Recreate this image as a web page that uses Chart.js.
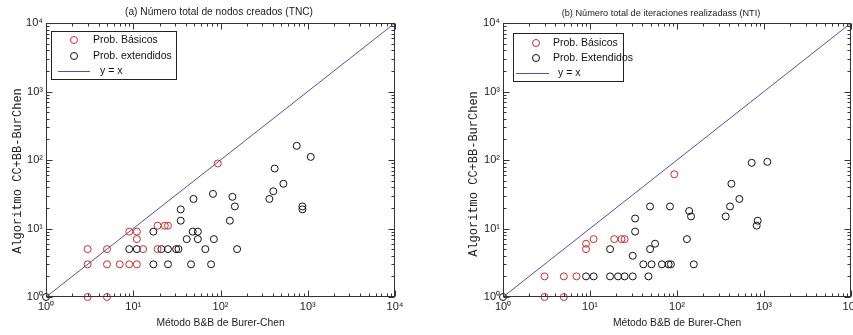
<!DOCTYPE html>
<html><head><meta charset="utf-8">
<script src="https://cdn.jsdelivr.net/npm/chart.js@4.4.1/dist/chart.umd.min.js"></script>
<style>
html,body{margin:0;padding:0;background:#fff;overflow:hidden;}
#wrap{position:relative;width:853px;height:335px;overflow:hidden;background:#fff;}
canvas{position:absolute;top:0;}
</style></head><body>
<div id="wrap">
<canvas id="c1" width="426" height="335" style="left:0"></canvas>
<canvas id="c2" width="440" height="335" style="left:426px"></canvas>
</div>
<script>
// ---- text / tick labels ----
const tickValues = [1, 10, 100, 1000, 10000];
const tickLabels = ['10⁰', '10¹', '10²', '10³', '10⁴'];
const xAxisLabel = 'Método B&B de Burer-Chen';
const yAxisLabel = 'Algoritmo CC+BB-BurChen';
const titleA = '(a) Número total de nodos creados (TNC)';
const titleB = '(b) Número total de iteraciones realizadass (NTI)';
const legendA = ['Prob. Básicos', 'Prob. extendidos', 'y = x'];
const legendB = ['Prob. Básicos', 'Prob. Extendidos', 'y = x'];

// ---- reference line y = x ----
const identityX = [1, 10000];
const identityY = [1, 10000];

// ---- (a) TNC ----
const tncBasicX = [3, 5, 3, 3, 5, 5, 7, 9, 11, 9, 11, 11, 13, 19, 19, 23, 25, 93];
const tncBasicY = [1, 1, 3, 5, 5, 3, 3, 3, 3, 9, 9, 7, 5, 5, 11, 11, 11, 89];
const tncExtX = [1, 9, 11, 21, 25, 31, 33, 67, 155, 17, 25, 46, 78, 41, 55, 84, 17, 48, 55, 35, 128, 35, 146, 49, 82, 137, 363, 403, 526, 869, 869, 418, 748, 1082];
const tncExtY = [1, 5, 5, 5, 5, 5, 5, 5, 5, 3, 3, 3, 3, 7, 7, 7, 9, 9, 9, 13, 13, 19, 21, 27, 32, 29, 27, 35, 45, 21, 19, 75, 161, 111];

// ---- (b) NTI ----
const ntiBasicX = [3, 5, 3, 5, 7, 9, 9, 11, 19, 23, 25, 93];
const ntiBasicY = [1, 1, 2, 2, 2, 6, 5, 7, 7, 7, 7, 62];
const ntiExtX = [1, 9, 11, 17, 21, 25, 31, 47, 41, 51, 67, 80, 85, 156, 31, 17, 49, 56, 33, 33, 49, 83, 130, 138, 145, 363, 407, 422, 521, 847, 824, 722, 1092];
const ntiExtY = [1, 2, 2, 2, 2, 2, 2, 2, 3, 3, 3, 3, 3, 3, 4, 5, 5, 6, 9, 14, 21, 21, 7, 18, 15, 15, 21, 45, 27, 13, 11, 91, 94];

const RED = 'rgb(200,45,45)';
const BLACK = '#111';
const BLUE = 'rgb(80,80,175)';
const SANS = '"Liberation Sans", Arial, sans-serif';
const MONO = '"Liberation Mono", "Courier New", monospace';

function pts(xs, ys) { return xs.map((x, i) => ({ x: x, y: ys[i] })); }

const matlabPlugin = {
  id: 'matlab',
  afterDatasetsDraw(chart, args, o) {
    const ctx = chart.ctx, a = chart.chartArea, xs = chart.scales.x, ys = chart.scales.y;
    ctx.save();
    ctx.strokeStyle = '#333';
    ctx.lineWidth = 1;
    const L = Math.round(a.left) + 0.5, R = Math.round(a.right) - 0.5;
    const T = Math.round(a.top) + 0.5, B = Math.round(a.bottom) - 0.5;
    ctx.strokeRect(L, T, R - L, B - T);
    ctx.beginPath();
    const vals = [];
    for (let d = 0; d < 4; d++) for (let k = 1; k <= 9; k++) vals.push([k * Math.pow(10, d), k === 1]);
    vals.push([10000, true]);
    vals.forEach(([v, major]) => {
      const len = major ? 6 : 3;
      const px = Math.round(xs.getPixelForValue(v)) + 0.5;
      ctx.moveTo(px, B); ctx.lineTo(px, B - len);
      ctx.moveTo(px, T); ctx.lineTo(px, T + len);
      const py = Math.round(ys.getPixelForValue(v)) + 0.5;
      ctx.moveTo(L, py); ctx.lineTo(L + len, py);
      ctx.moveTo(R, py); ctx.lineTo(R - len, py);
    });
    ctx.stroke();
    ctx.restore();
  },
  afterDraw(chart, args, o) {
    const ctx = chart.ctx;
    ctx.save();
    // title
    ctx.fillStyle = '#222';
    ctx.font = o.titleSize + 'px ' + SANS;
    ctx.textAlign = 'center';
    ctx.textBaseline = 'middle';
    ctx.fillText(o.title, o.titleX, o.titleY);
    // y label
    ctx.save();
    ctx.translate(o.ylabelX, o.ylabelY);
    ctx.rotate(-Math.PI / 2);
    ctx.font = '12px ' + MONO;
    ctx.fillText(o.ylabel, 0, 0);
    ctx.restore();
    // legend
    const lg = o.legend;
    ctx.fillStyle = '#fff';
    ctx.fillRect(lg.x0, lg.y0, lg.x1 - lg.x0, lg.y1 - lg.y0);
    ctx.strokeStyle = '#222';
    ctx.lineWidth = 1;
    ctx.strokeRect(lg.x0 + 0.5, lg.y0 + 0.5, lg.x1 - lg.x0, lg.y1 - lg.y0);
    ctx.font = '10.5px ' + SANS;
    ctx.textAlign = 'left';
    ctx.textBaseline = 'middle';
    chart.data.datasets.forEach((ds, i) => {
      const ry = lg.rows[i];
      if (ds.showLine) {
        ctx.strokeStyle = ds.borderColor;
        ctx.beginPath();
        ctx.moveTo(lg.lineX0, ry + 0.5); ctx.lineTo(lg.lineX1, ry + 0.5);
        ctx.stroke();
        ctx.fillStyle = '#111';
        ctx.fillText(ds.label, lg.lineTextX, ry);
      } else {
        ctx.strokeStyle = ds.pointBorderColor;
        ctx.beginPath();
        ctx.arc(lg.markerX, ry, 3.5, 0, Math.PI * 2);
        ctx.stroke();
        ctx.fillStyle = '#111';
        ctx.fillText(ds.label, lg.textX, ry);
      }
    });
    ctx.restore();
  }
};

function makeChart(id, basic, ext, legendLabels, yWidth, padRight, matlabOpts) {
  const tickFont = { family: SANS, size: 11 };
  return new Chart(document.getElementById(id), {
    type: 'scatter',
    data: {
      datasets: [
        { label: legendLabels[0], data: basic, showLine: false, pointStyle: 'circle', pointRadius: 3.5,
          pointBorderColor: RED, pointBackgroundColor: 'rgba(0,0,0,0)', pointBorderWidth: 1, borderColor: RED, clip: false },
        { label: legendLabels[1], data: ext, showLine: false, pointStyle: 'circle', pointRadius: 3.5,
          pointBorderColor: BLACK, pointBackgroundColor: 'rgba(0,0,0,0)', pointBorderWidth: 1, borderColor: BLACK, clip: false },
        { label: legendLabels[2], data: pts(identityX, identityY), showLine: true, borderColor: BLUE, borderWidth: 1,
          pointRadius: 0, fill: false }
      ]
    },
    options: {
      responsive: false,
      animation: false,
      layout: { padding: { left: 0, right: padRight, top: 23, bottom: 0 } },
      plugins: {
        legend: { display: false },
        tooltip: { enabled: false },
        title: { display: false },
        matlab: matlabOpts
      },
      scales: {
        x: {
          type: 'logarithmic', min: 1, max: 10000, position: 'bottom',
          afterBuildTicks: (s) => { s.ticks = tickValues.map(v => ({ value: v })); },
          afterFit: (s) => { s.height = 38; s.paddingLeft = 0; s.paddingRight = 0; },
          ticks: { callback: (v, i) => tickLabels[i], font: tickFont, color: '#222', padding: 3, maxRotation: 0, autoSkip: false },
          grid: { display: false, drawTicks: false },
          border: { display: false },
          title: { display: true, text: xAxisLabel, font: { family: SANS, size: 10.3 }, color: '#222', padding: { top: 0, bottom: 6 } }
        },
        y: {
          type: 'logarithmic', min: 1, max: 10000, position: 'left',
          afterBuildTicks: (s) => { s.ticks = tickValues.map(v => ({ value: v })); },
          afterFit: (s) => { s.width = yWidth; s.paddingTop = 0; s.paddingBottom = 0; },
          ticks: { callback: (v, i) => tickLabels[i], font: tickFont, color: '#222', padding: 3, autoSkip: false },
          grid: { display: false, drawTicks: false },
          border: { display: false },
          title: { display: false }
        }
      }
    },
    plugins: [matlabPlugin]
  });
}

makeChart('c1', pts(tncBasicX, tncBasicY), pts(tncExtX, tncExtY), legendA, 46, 31, {
  title: titleA, titleSize: 10.2, titleX: 219, titleY: 12,
  ylabel: yAxisLabel, ylabelX: 18, ylabelY: 171,
  legend: { x0: 51, y0: 31, x1: 176, y1: 79, rows: [40, 56, 71], markerX: 74, textX: 93, lineX0: 58, lineX1: 90, lineTextX: 100 }
});

makeChart('c2', pts(ntiBasicX, ntiBasicY), pts(ntiExtX, ntiExtY), legendB, 77, 15, {
  title: titleB, titleSize: 9.2, titleX: 235, titleY: 13,
  ylabel: yAxisLabel, ylabelX: 48, ylabelY: 174,
  legend: { x0: 87, y0: 33, x1: 197, y1: 81, rows: [43, 58, 73], markerX: 110, textX: 127, lineX0: 90, lineX1: 123, lineTextX: 132 }
});
</script>
</body></html>
